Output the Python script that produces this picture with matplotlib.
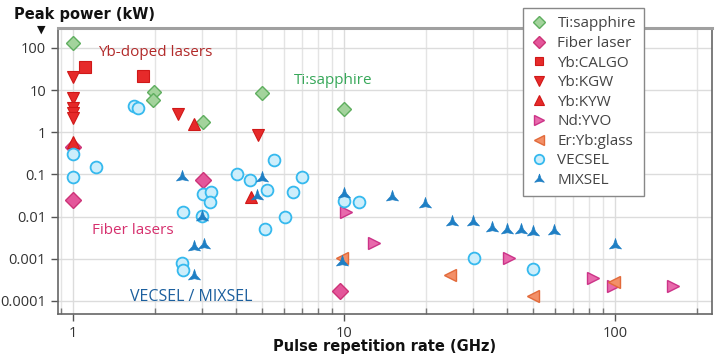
import numpy as np
import matplotlib
matplotlib.use("Agg")
import matplotlib.pyplot as plt
from matplotlib.ticker import FixedLocator, NullFormatter, LogLocator

plt.rcParams['font.family'] = ['Open Sans', 'DejaVu Sans']

# ---------------- data ----------------
ti_x = [1.0, 1.99, 1.97, 3.02, 5.0, 10.0]
ti_y = [134, 8.8, 5.9, 1.8, 8.4, 3.5]

fib_x = [1.0, 1.0, 3.02, 9.7]
fib_y = [0.44, 0.0245, 0.073, 1.76e-4]

calgo_x = [1.107, 1.81]
calgo_y = [36, 22]

kgw_x = [1.0, 1.0, 1.0, 1.0, 1.0, 2.44, 4.82]
kgw_y = [21, 6.5, 3.8, 2.9, 2.2, 2.7, 0.85]

kyw_x = [1.0, 2.8, 4.53]
kyw_y = [0.58, 1.55, 0.029]

nd_x = [10.2, 12.9, 40.6, 83, 98, 163]
nd_y = [0.0128, 0.0024, 0.00106, 3.5e-4, 2.3e-4, 2.3e-4]

er_x = [9.8, 24.6, 49.9, 99]
er_y = [1.05e-3, 4.1e-4, 1.3e-4, 2.8e-4]

vec_x = [1.0, 1.0, 1.22, 1.68, 1.74, 2.55, 2.52, 2.55, 3.02, 3.23, 3.2, 3.0,
         4.03, 4.5, 5.2, 5.1, 6.06, 5.5, 7.0, 6.5, 10.0, 11.4, 30.1, 49.9]
vec_y = [0.31, 0.088, 0.15, 4.3, 3.7, 0.0128, 7.9e-4, 5.5e-4, 0.034, 0.038, 0.022, 0.0105,
         0.1, 0.073, 0.042, 0.0051, 0.0098, 0.22, 0.086, 0.038, 0.023, 0.022, 1.05e-3, 5.8e-4]

mix_x = [2.52, 3.0, 2.8, 3.05, 2.8, 5.0, 4.77, 10.0, 9.8, 15.0, 19.9, 25, 30, 35, 40, 45, 50, 59.6, 100]
mix_y = [0.086, 0.01, 0.0019, 0.0021, 3.9e-4, 0.082, 0.031, 0.034, 8.4e-4, 0.029, 0.020,
         0.0075, 0.0075, 0.0054, 0.0048, 0.0048, 0.0043, 0.0046, 0.0021]

x_ticks = [1, 10, 100]
x_ticklabels = ["1", "10", "100"]
y_ticks = [1e2, 1e1, 1, 1e-1, 1e-2, 1e-3, 1e-4]
y_ticklabels = ["100", "10", "1", "0.1", "0.01", "0.001", "0.0001"]

# ---------------- figure ----------------
fig = plt.figure(figsize=(7.2, 3.59), dpi=100)
ax = fig.add_axes([0.0806, 0.1253, 0.989 - 0.0806, 0.922 - 0.1253])
ax.set_xscale('log')
ax.set_yscale('log')
ax.set_xlim(0.88, 228)
ax.set_ylim(4.9e-5, 297)

# custom MIXSEL marker (three-pointed star)
verts = []
for k in range(3):
    a_out = np.deg2rad(90 + 120 * k)
    a_in = np.deg2rad(90 + 120 * k + 60)
    verts.append((np.cos(a_out), np.sin(a_out)))
    verts.append((0.32 * np.cos(a_in), 0.32 * np.sin(a_in)))
verts.append(verts[0])

kw = dict(linestyle='none', zorder=3)
h_ti, = ax.plot(ti_x, ti_y, marker='D', ms=7.5, mfc='#a3d39c', mec='#5fae5f', mew=1.0, label='Ti:sapphire', **kw)
h_fib, = ax.plot(fib_x, fib_y, marker='D', ms=8, mfc='#e4569a', mec='#cc3478', mew=1.0, label='Fiber laser', **kw)
h_cal, = ax.plot(calgo_x, calgo_y, marker='s', ms=8, mfc='#e62a2a', mec='#d01818', mew=0.8, label='Yb:CALGO', **kw)
h_kgw, = ax.plot(kgw_x, kgw_y, marker='v', ms=8.5, mfc='#e62a2a', mec='#d01818', mew=0.8, label='Yb:KGW', **kw)
h_kyw, = ax.plot(kyw_x, kyw_y, marker='^', ms=8.5, mfc='#e62a2a', mec='#d01818', mew=0.8, label='Yb:KYW', **kw)
h_nd, = ax.plot(nd_x, nd_y, marker='>', ms=8.5, mfc='#e86aac', mec='#cc3388', mew=1.0, label='Nd:YVO', **kw)
h_er, = ax.plot(er_x, er_y, marker='<', ms=8.5, mfc='#f39068', mec='#e26a3a', mew=1.0, label='Er:Yb:glass', **kw)
h_vec, = ax.plot(vec_x, vec_y, marker='o', ms=8.5, mfc='#cdeefb', mec='#35b9ee', mew=1.3, label='VECSEL', **kw)
h_mix, = ax.plot(mix_x, mix_y, marker=verts, ms=10, mfc='#1f7fc4', mec='#1f7fc4', mew=0.5, label='MIXSEL', **kw)

# grid
ax.xaxis.set_major_locator(FixedLocator(x_ticks))
ax.xaxis.set_minor_locator(LogLocator(base=10, subs=np.arange(2, 10)))
ax.xaxis.set_minor_formatter(NullFormatter())
ax.set_xticklabels(x_ticklabels)
ax.yaxis.set_major_locator(FixedLocator(y_ticks))
ax.yaxis.set_minor_locator(FixedLocator([]))
ax.set_yticklabels(y_ticklabels)
ax.grid(True, which='major', axis='both', color='#dcdcdc', lw=1.0, zorder=0)
ax.grid(True, which='minor', axis='x', color='#e4e4e4', lw=1.0, zorder=0)
ax.set_axisbelow(True)

ax.tick_params(axis='both', which='major', labelsize=10.5, colors='#555555', labelcolor='#333333',
               length=5, width=1, direction='out')
ax.tick_params(axis='x', which='minor', length=4, width=1, direction='in', colors='#777777')

for s in ['left', 'bottom', 'right']:
    ax.spines[s].set_color('#666666')
    ax.spines[s].set_linewidth(1.2)
ax.spines['top'].set_color('#a0a0a0')
ax.spines['top'].set_linewidth(2.2)

# annotations
fig.text(98 / 720, 1 - 53 / 359, 'Yb-doped lasers', fontsize=11, color='#b22a2a', va='center', ha='left')
fig.text(294 / 720, 1 - 80 / 359, 'Ti:sapphire', fontsize=11, color='#38a85a', va='center', ha='left')
fig.text(92 / 720, 1 - 230 / 359, 'Fiber lasers', fontsize=11, color='#d6306e', va='center', ha='left')
fig.text(130 / 720, 1 - 297 / 359, 'VECSEL / MIXSEL', fontsize=11.5, color='#1b5f9e', va='center', ha='left')

fig.text(14 / 720, 1 - 15 / 359, 'Peak power (kW)', fontsize=10.5, fontweight='bold', color='#111111',
         va='center', ha='left', family=['DejaVu Sans'])
fig.text(41 / 720, 1 - 30 / 359, '\u25BC', fontsize=8, color='#111111', va='center', ha='center',
         family=['DejaVu Sans'])
fig.text(385 / 720, 1 - 347 / 359, 'Pulse repetition rate (GHz)', fontsize=10.5, fontweight='bold',
         color='#111111', va='center', ha='center', family=['DejaVu Sans'])

leg = fig.legend(handles=[h_ti, h_fib, h_cal, h_kgw, h_kyw, h_nd, h_er, h_vec, h_mix],
                 loc='upper left', bbox_to_anchor=(523 / 720, 1 - 8 / 359), borderaxespad=0,
                 frameon=True, fancybox=False, fontsize=11, labelspacing=0.3,
                 handlelength=1.0, handletextpad=0.7, borderpad=0.55, markerscale=0.8,
                 edgecolor='#888888', framealpha=1.0)
leg.get_frame().set_linewidth(1.0)
for t in leg.get_texts():
    t.set_color('#444444')

fig.savefig('out.png', dpi=100)
